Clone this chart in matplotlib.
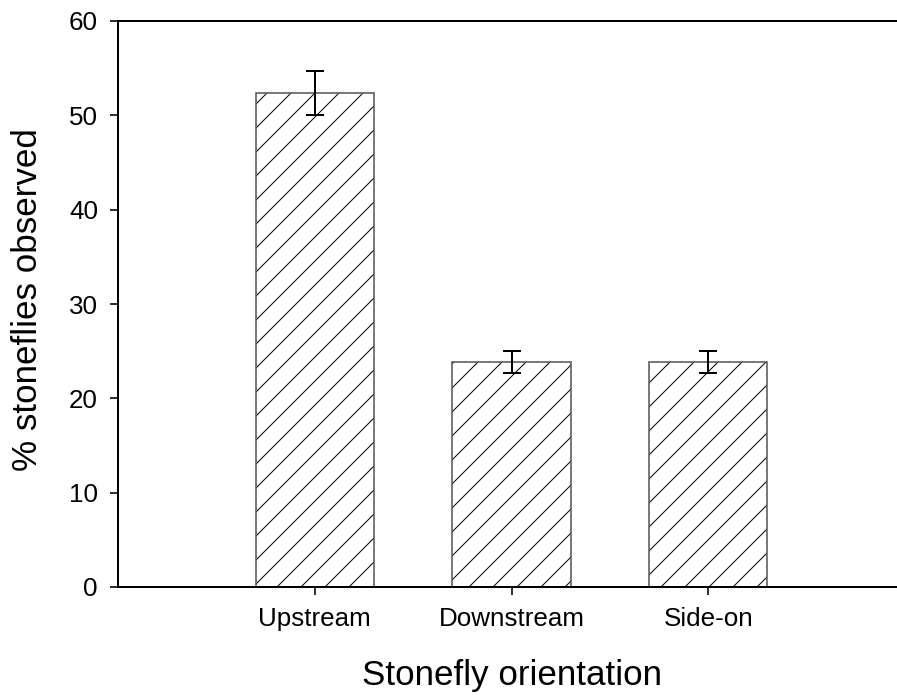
import numpy as np
import matplotlib
matplotlib.use("Agg")
import matplotlib.pyplot as plt

plt.rcParams['font.family'] = ['Liberation Sans', 'DejaVu Sans']
plt.rcParams['hatch.linewidth'] = 0.5

categories = ["Upstream", "Downstream", "Side-on"]
percent = [52.35, 23.85, 23.85]
sem = [2.35, 1.15, 1.15]

fig = plt.figure(figsize=(897 / 144, 699 / 144), dpi=144)
ax = fig.add_axes([118 / 897, 112 / 699, 787 / 897, 566 / 699])

x = np.arange(len(categories))
# hatch in black, outline in grey -> two passes
ax.bar(x, percent, width=0.6, color='white', edgecolor='black',
       linewidth=0, hatch='//', zorder=2)
ax.bar(x, percent, width=0.6, fill=False, edgecolor='#5a5a5a',
       linewidth=0.8, zorder=2)
ax.errorbar(x, percent, yerr=sem, fmt='none', ecolor='black',
            elinewidth=1.0, capsize=4.3, capthick=1.0, zorder=3)

ax.set_xlim(-1, 3)
ax.set_ylim(0, 60)
ax.set_yticks(range(0, 61, 10))
ax.set_xticks(x)
ax.set_xticklabels(categories)

ax.spines['right'].set_visible(False)
for s in ['top', 'left', 'bottom']:
    ax.spines[s].set_linewidth(1.0)
ax.tick_params(axis='both', direction='out', length=4, width=0.8,
               labelsize=13, pad=6)
ax.tick_params(axis='x', top=False)
ax.tick_params(axis='y', right=False)

fig.text(512 / 897, 1 - 675 / 699, "Stonefly orientation", fontsize=17.5,
         ha='center', va='center')
fig.text(28 / 897, 1 - 300 / 699, "% stoneflies observed", fontsize=17.5,
         ha='center', va='center', rotation=90)

fig.savefig("out.png", dpi=144)
